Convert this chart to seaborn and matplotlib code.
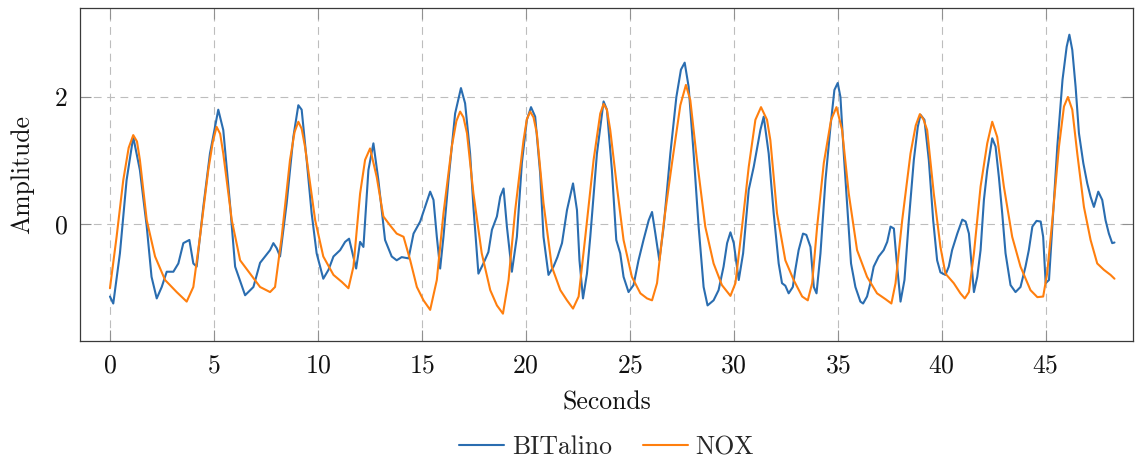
import numpy as np
import pandas as pd
import matplotlib
matplotlib.use("Agg")
import matplotlib.pyplot as plt
import seaborn as sns
from matplotlib.ticker import FixedLocator

# ---------------- data ----------------
bit_t = [0.0, 0.16, 0.48, 0.8, 1.12, 1.44, 1.77, 2.0, 2.25, 2.49, 2.73, 3.05, 3.29, 3.53, 3.82,
         4.01, 4.17, 4.49, 4.81, 5.21, 5.45, 5.77, 6.02, 6.5, 6.9, 7.22, 7.46, 7.70, 7.86, 8.02,
         8.18, 8.5, 8.82, 9.06, 9.22, 9.46, 9.70, 9.94, 10.26, 10.51, 10.75, 11.07, 11.31, 11.5,
         11.63, 11.84, 12.03, 12.19, 12.43, 12.67, 12.91, 13.23, 13.55, 13.79, 14.03, 14.36, 14.6,
         14.92, 15.24, 15.40, 15.56, 15.72, 15.88, 16.04, 16.28, 16.6, 16.88, 17.08, 17.32, 17.48,
         17.72, 17.96, 18.2, 18.37, 18.61, 18.77, 18.93, 19.09, 19.33, 19.57, 19.81, 20.05, 20.25,
         20.45, 20.69, 20.85, 21.09, 21.33, 21.52, 21.74, 21.98, 22.27, 22.46, 22.58, 22.75, 22.94,
         23.1, 23.42, 23.74, 23.90, 24.14, 24.35, 24.54, 24.70, 24.94, 25.18, 25.42, 25.66, 25.91,
         26.07, 26.23, 26.42, 26.63, 26.95, 27.24, 27.46, 27.64, 27.83, 28.07, 28.31, 28.55, 28.74,
         29.03, 29.27, 29.51, 29.68, 29.84, 30.0, 30.24, 30.45, 30.72, 30.96, 31.28, 31.44, 31.68,
         31.92, 32.16, 32.32, 32.48, 32.64, 32.84, 32.96, 33.12, 33.33, 33.49, 33.69, 33.85, 33.98,
         34.17, 34.41, 34.65, 34.84, 35.0, 35.13, 35.29, 35.48, 35.64, 35.85, 36.09, 36.22, 36.41,
         36.57, 36.73, 36.97, 37.21, 37.38, 37.54, 37.70, 37.83, 38.02, 38.21, 38.42, 38.66, 38.85,
         38.98, 39.17, 39.38, 39.59, 39.78, 39.94, 40.18, 40.34, 40.50, 40.75, 40.99, 41.15, 41.31,
         41.42, 41.55, 41.71, 41.87, 42.03, 42.19, 42.43, 42.59, 42.75, 42.91, 43.07, 43.31, 43.55,
         43.79, 44.03, 44.19, 44.36, 44.56, 44.76, 44.88, 45.0, 45.16, 45.32, 45.56, 45.81, 46.01,
         46.14, 46.28, 46.44, 46.60, 46.81, 47.0, 47.16, 47.32, 47.53, 47.72, 47.88, 48.04, 48.20,
         48.31]
bit_v = [-1.14, -1.25, -0.46, 0.69, 1.37, 0.85, -0.04, -0.83, -1.17, -0.99, -0.75, -0.75, -0.62,
         -0.30, -0.25, -0.62, -0.67, 0.27, 1.11, 1.80, 1.48, 0.33, -0.67, -1.12, -0.99, -0.61,
         -0.51, -0.41, -0.30, -0.38, -0.51, 0.33, 1.37, 1.87, 1.80, 1.01, 0.17, -0.46, -0.86,
         -0.72, -0.51, -0.41, -0.28, -0.23, -0.41, -0.70, -0.28, -0.36, 0.85, 1.27, 0.69, -0.25,
         -0.51, -0.57, -0.52, -0.54, -0.15, 0.04, 0.35, 0.51, 0.38, -0.20, -0.70, -0.2, 0.69,
         1.74, 2.14, 1.90, 1.11, 0.27, -0.78, -0.62, -0.44, -0.09, 0.12, 0.43, 0.56, -0.04, -0.75,
         -0.2, 0.96, 1.64, 1.84, 1.69, 0.80, -0.2, -0.80, -0.67, -0.52, -0.30, 0.22, 0.64, 0.22,
         -0.57, -1.17, -0.78, -0.2, 1.11, 1.93, 1.80, 0.85, -0.25, -0.46, -0.83, -1.07, -0.96,
         -0.57, -0.25, 0.06, 0.19, -0.15, -0.57, -0.04, 1.11, 2.0, 2.43, 2.54, 2.16, 1.11, -0.04,
         -0.99, -1.28, -1.20, -1.04, -0.67, -0.30, -0.13, -0.30, -0.88, -0.46, 0.54, 0.90, 1.48,
         1.69, 1.11, 0.17, -0.62, -0.93, -0.97, -1.09, -0.99, -0.72, -0.41, -0.15, -0.17, -0.36,
         -0.99, -1.09, -0.46, 0.69, 1.53, 2.11, 2.22, 2.0, 1.11, 0.17, -0.62, -0.99, -1.22, -1.25,
         -1.14, -0.93, -0.67, -0.51, -0.41, -0.28, -0.04, -0.07, -0.57, -1.22, -0.88, 0.06, 1.01,
         1.53, 1.72, 1.64, 1.01, 0.06, -0.57, -0.76, -0.80, -0.67, -0.41, -0.15, 0.07, 0.04, -0.15,
         -0.57, -1.07, -0.83, -0.41, 0.38, 0.85, 1.35, 1.22, 0.74, 0.17, -0.46, -0.96, -1.07,
         -0.99, -0.67, -0.41, -0.04, 0.05, 0.04, -0.2, -0.93, -0.88, -0.04, 1.22, 2.27, 2.79, 2.98,
         2.74, 2.16, 1.43, 0.96, 0.64, 0.43, 0.27, 0.51, 0.38, 0.06, -0.15, -0.30, -0.29]

nox_t = [0.0, 0.32, 0.64, 0.9, 1.12, 1.3, 1.44, 1.77, 2.17, 2.65, 3.21, 3.69, 4.01, 4.33, 4.73,
         4.95, 5.13, 5.3, 5.45, 5.86, 6.26, 6.74, 7.22, 7.70, 7.94, 8.26, 8.66, 8.88, 9.06, 9.22,
         9.38, 9.87, 10.26, 10.75, 11.15, 11.47, 11.71, 12.03, 12.27, 12.51, 12.83, 13.15, 13.47,
         13.79, 14.12, 14.44, 14.76, 15.08, 15.4, 15.72, 16.04, 16.44, 16.66, 16.84, 17.0, 17.17,
         17.48, 17.88, 18.29, 18.61, 18.9, 19.17, 19.49, 19.89, 20.05, 20.21, 20.37, 20.53, 20.85,
         21.25, 21.66, 21.98, 22.27, 22.54, 22.86, 23.26, 23.58, 23.74, 23.9, 24.06, 24.38, 24.70,
         25.10, 25.51, 25.83, 26.07, 26.31, 26.63, 27.03, 27.43, 27.70, 27.91, 28.23, 28.63,
         29.03, 29.43, 29.84, 30.08, 30.40, 30.72, 31.04, 31.31, 31.60, 31.76, 32.08, 32.48,
         32.88, 33.29, 33.56, 33.77, 34.01, 34.33, 34.68, 34.94, 35.21, 35.53, 35.93, 36.41,
         36.89, 37.29, 37.58, 37.78, 38.10, 38.50, 38.75, 38.95, 39.12, 39.30, 39.62, 39.94,
         40.18, 40.58, 40.90, 41.11, 41.31, 41.55, 41.87, 42.19, 42.43, 42.67, 42.99, 43.39,
         43.79, 44.27, 44.6, 44.88, 45.07, 45.32, 45.64, 45.88, 46.07, 46.28, 46.52, 46.84,
         47.16, 47.48, 47.80, 48.12, 48.31]
nox_v = [-1.01, -0.2, 0.69, 1.2, 1.40, 1.3, 1.01, 0.06, -0.51, -0.88, -1.07, -1.22, -0.99, -0.2,
         0.85, 1.3, 1.53, 1.42, 1.11, 0.06, -0.57, -0.78, -0.99, -1.07, -0.99, -0.2, 1.01, 1.45,
         1.61, 1.5, 1.22, 0.06, -0.51, -0.80, -0.91, -1.01, -0.67, 0.48, 1.01, 1.19, 0.74, 0.12,
         -0.02, -0.15, -0.2, -0.57, -0.99, -1.20, -1.35, -0.88, 0.17, 1.22, 1.62, 1.77, 1.68,
         1.43, 0.48, -0.46, -1.04, -1.28, -1.41, -0.88, 0.22, 1.32, 1.65, 1.77, 1.68, 1.43, 0.33,
         -0.67, -1.04, -1.20, -1.33, -1.14, -0.2, 1.01, 1.74, 1.89, 1.8, 1.48, 0.59, -0.25, -0.83,
         -1.09, -1.17, -1.20, -0.93, 0.01, 0.96, 1.87, 2.19, 1.95, 1.01, -0.04, -0.62, -0.96,
         -1.13, -0.93, -0.04, 0.90, 1.64, 1.84, 1.64, 1.32, 0.17, -0.57, -0.88, -1.14, -1.20,
         -0.93, -0.04, 0.96, 1.64, 1.84, 1.48, 0.48, -0.41, -0.83, -1.09, -1.18, -1.25, -0.93,
         0.06, 1.11, 1.55, 1.73, 1.65, 1.48, 0.48, -0.36, -0.78, -0.93, -1.09, -1.17, -1.07,
         -0.46, 0.59, 1.27, 1.61, 1.37, 0.59, -0.2, -0.67, -1.04, -1.15, -1.14, -0.78, 0.06, 1.22,
         1.85, 2.0, 1.80, 1.11, 0.27, -0.25, -0.62, -0.72, -0.80, -0.86]

series_names = ["BITalino", "NOX"]
x_ticks = [0, 5, 10, 15, 20, 25, 30, 35, 40, 45]
y_ticks = [0, 2]

df = pd.concat([
    pd.DataFrame({"Seconds": bit_t, "Amplitude": bit_v, "series": series_names[0]}),
    pd.DataFrame({"Seconds": nox_t, "Amplitude": nox_v, "series": series_names[1]}),
], ignore_index=True)

# ---------------- style ----------------
sns.set_theme(style="white")
plt.rcParams["font.family"] = ["cmr10", "DejaVu Serif"]
plt.rcParams["mathtext.fontset"] = "cm"
plt.rcParams["axes.unicode_minus"] = False
plt.rcParams["axes.formatter.use_mathtext"] = True
FS = 18.5

fig = plt.figure(figsize=(11.35, 4.59), dpi=100)
ax = fig.add_axes([80 / 1135, 118 / 459, 1053 / 1135, 333 / 459])

palette = {"BITalino": "#2a6db0", "NOX": "#ff7f0e"}
sns.lineplot(data=df, x="Seconds", y="Amplitude", hue="series", palette=palette,
             estimator=None, sort=False, linewidth=1.5, ax=ax)
for ln in ax.get_lines():
    ln.set_solid_joinstyle("round")

ax.set_xlim(-1.44, 49.2)
ax.set_ylim(-1.84, 3.40)
ax.xaxis.set_major_locator(FixedLocator(x_ticks))
ax.yaxis.set_major_locator(FixedLocator(y_ticks))

ax.grid(True, which="major", color="#bdbdbd", linestyle=(0, (7, 5)), linewidth=0.8)
ax.set_axisbelow(True)

for s in ax.spines.values():
    s.set_visible(True)
    s.set_color("#3a3a3a")
    s.set_linewidth(0.9)

ax.tick_params(axis="both", which="major", direction="in", length=8, width=0.8,
               color="#909090", labelsize=FS, top=True, right=True, bottom=True, left=True,
               labelcolor="#111111", pad=9)

ax.set_xlabel("Seconds", fontsize=FS, color="#111111", labelpad=10)
ax.set_ylabel("Amplitude", fontsize=FS, color="#111111", labelpad=14)

sns.move_legend(ax, "upper center", bbox_to_anchor=(0.5, -0.215), ncol=2, frameon=False,
                title=None, fontsize=FS, handlelength=1.75, handletextpad=0.3,
                columnspacing=1.2)

fig.savefig("out.png", dpi=100)
